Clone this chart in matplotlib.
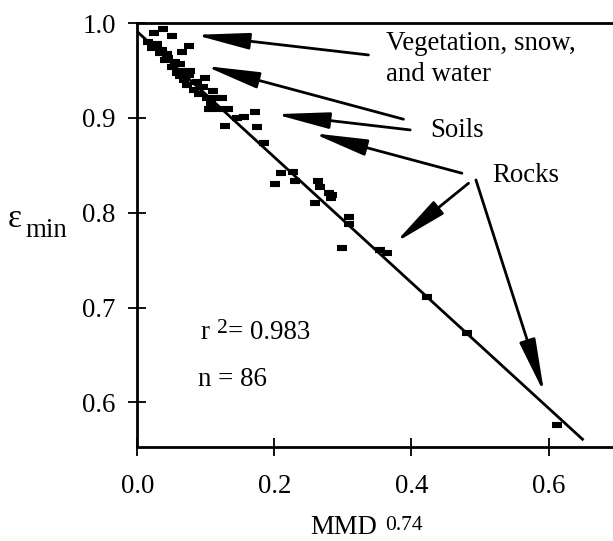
import numpy as np
import matplotlib
matplotlib.use('Agg')
import matplotlib.pyplot as plt

plt.rcParams['font.family'] = ['Liberation Serif', 'DejaVu Serif']

# data (MMD^0.74 vs emissivity min)
mmd = [0.038, 0.024, 0.050, 0.021, 0.033, 0.044, 0.065, 0.075, 0.040, 0.055,
       0.063, 0.050, 0.065, 0.077, 0.062, 0.076, 0.099, 0.072, 0.087, 0.096,
       0.111, 0.101, 0.113, 0.123, 0.104, 0.118, 0.133, 0.145, 0.128, 0.155,
       0.172, 0.174, 0.185, 0.210, 0.227, 0.230, 0.201, 0.263, 0.267, 0.279,
       0.282, 0.259, 0.284, 0.309, 0.309, 0.298, 0.354, 0.365, 0.422, 0.481,
       0.612, 0.028, 0.045, 0.058, 0.068, 0.082, 0.090, 0.015, 0.036, 0.107]
emin = [0.994, 0.990, 0.986, 0.974, 0.969, 0.967, 0.970, 0.976, 0.961, 0.959,
        0.957, 0.954, 0.950, 0.950, 0.944, 0.945, 0.942, 0.935, 0.938, 0.933,
        0.928, 0.921, 0.921, 0.921, 0.909, 0.909, 0.909, 0.900, 0.892, 0.901,
        0.906, 0.891, 0.874, 0.842, 0.843, 0.834, 0.830, 0.833, 0.827, 0.821,
        0.816, 0.810, 0.819, 0.796, 0.788, 0.763, 0.761, 0.757, 0.711, 0.673,
        0.576, 0.978, 0.963, 0.947, 0.940, 0.930, 0.925, 0.980, 0.972, 0.915]

# regression line end points
fit_x = [0.0, 0.651]
fit_y = [0.991, 0.560]

xticks = [0.0, 0.2, 0.4, 0.6]
yticks = [0.6, 0.7, 0.8, 0.9, 1.0]

fig = plt.figure(figsize=(6.13, 5.41), dpi=100)
ax = fig.add_axes([0.224, 0.1732, 0.776, 0.7839])

ax.plot(fit_x, fit_y, color='black', lw=2.0, solid_capstyle='butt', zorder=2)
ax.plot(mmd, emin, ls='none', marker='_', ms=7.8, mew=4.4, color='black', zorder=3)

# arrows: (tip, tail)
arrows = [((0.0842, 0.9877), (0.3372, 0.9665)),
          ((0.0988, 0.9549), (0.3883, 0.8987)),
          ((0.2010, 0.9040), (0.3981, 0.8874)),
          ((0.2561, 0.8839), (0.4736, 0.8417)),
          ((0.3762, 0.7684), (0.4832, 0.8311)),
          ((0.5937, 0.6095), (0.4940, 0.8346))]
for tip, tail in arrows:
    ax.annotate('', xy=tip, xytext=tail,
                arrowprops=dict(arrowstyle='-|>,head_length=3.3,head_width=0.5',
                                color='black', lw=2.0, shrinkA=0, shrinkB=0,
                                mutation_scale=10))

fs = 19.4
ax.text(0.3631, 0.9718, 'Vegetation, snow,', fontsize=fs, va='baseline')
ax.text(0.3631, 0.9391, 'and water', fontsize=fs, va='baseline')
ax.text(0.4273, 0.8803, 'Soils', fontsize=fs, va='baseline')
ax.text(0.5174, 0.8328, 'Rocks', fontsize=fs, va='baseline')
ax.text(0.0915, 0.6668, 'r', fontsize=fs, va='baseline')
ax.text(0.1159, 0.6731, '2', fontsize=15.5, va='baseline')
ax.text(0.1328, 0.6668, '= 0.983', fontsize=fs, va='baseline')
ax.text(0.0886, 0.6177, 'n = 86', fontsize=fs, va='baseline')

ax.set_xlim(0, 0.694)
ax.set_ylim(0.5525, 1.0)
ax.set_xticks(xticks)
ax.set_xticklabels(['%.1f' % v for v in xticks])
ax.set_yticks(yticks)
ax.set_yticklabels(['%.1f' % v for v in yticks])
ax.tick_params(direction='inout', length=13, width=1.3, labelsize=fs)
ax.tick_params(axis='y', pad=9)
ax.tick_params(axis='x', pad=13)
for s in ['left', 'bottom', 'top']:
    ax.spines[s].set_linewidth(2)
ax.spines['right'].set_visible(False)

# axis labels
fig.text(8 / 613, 1 - 227 / 541, 'ε', fontsize=24, va='baseline')
fig.text(25 / 613, 1 - 236.7 / 541, 'min', fontsize=fs, va='baseline')
fig.text(310 / 613, 1 - 534 / 541, 'MMD', fontsize=fs, va='baseline')
fig.text(385 / 613, 1 - 530 / 541, '0.74', fontsize=15.5, va='baseline')

fig.savefig('out.png', dpi=100)
